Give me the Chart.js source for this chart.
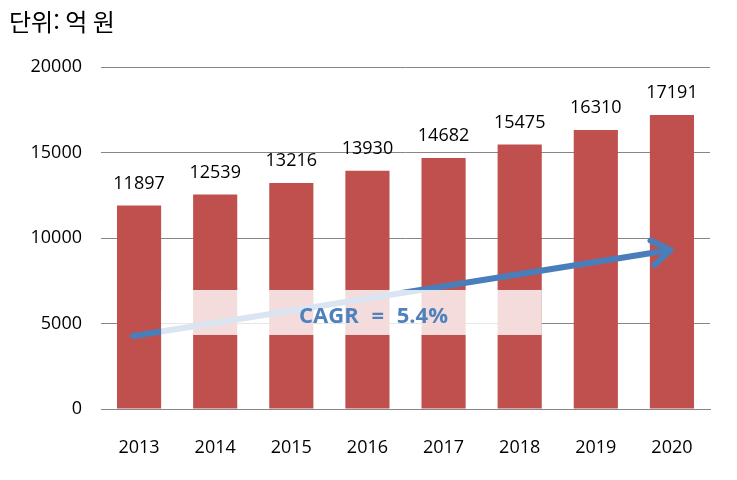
<!DOCTYPE html>
<html lang="ko">
<head>
<meta charset="UTF-8">
<script src="https://cdn.jsdelivr.net/npm/chart.js"></script>
<style>
  body { margin: 0; background: #fff; }
  #wrap { width: 737px; height: 480px; }
</style>
<title>Chart</title>
</head>
<body>
<div id="wrap"><canvas id="c" width="737" height="480"></canvas></div>
<script>
var years = ['2013', '2014', '2015', '2016', '2017', '2018', '2019', '2020'];
var sales = [11897, 12539, 13216, 13930, 14682, 15475, 16310, 17191];
var yTicks = [0, 5000, 10000, 15000, 20000];
var unitText = '단위: 억 원';
var cagrText = 'CAGR = 5.4%';
// arrow runs from [category index, value] to [category index, value]
var arrowFrom = [-0.08, 4270];
var arrowTo = [6.98, 9300];
// translucent band under the CAGR label
var bandFrom = [0.29, 6960];
var bandTo = [5.29, 4330];

var KFONT = '"Noto Sans CJK KR", sans-serif';
var NFONT = '"Open Sans", "Noto Sans", sans-serif';

var overlay = {
  id: 'overlay',
  afterDatasetsDraw: function (chart) {
    var ctx = chart.ctx;
    var xs = chart.scales.x, ys = chart.scales.y;
    var meta = chart.getDatasetMeta(0);

    // value labels
    ctx.save();
    ctx.font = '18px ' + NFONT;
    ctx.fillStyle = '#000';
    ctx.textAlign = 'center';
    ctx.textBaseline = 'middle';
    meta.data.forEach(function (bar, i) {
      ctx.fillText(sales[i], bar.x, bar.y - 22);
    });
    ctx.restore();

    // arrow
    var x1 = xs.getPixelForValue(arrowFrom[0]), y1 = ys.getPixelForValue(arrowFrom[1]);
    var x2 = xs.getPixelForValue(arrowTo[0]), y2 = ys.getPixelForValue(arrowTo[1]);
    var ang = Math.atan2(y2 - y1, x2 - x1);
    ctx.save();
    ctx.strokeStyle = '#4A7EBB';
    ctx.lineWidth = 6;
    ctx.lineCap = 'round';
    ctx.lineJoin = 'round';
    ctx.beginPath();
    ctx.moveTo(x1, y1);
    ctx.lineTo(x2, y2);
    ctx.stroke();
    var hl = 22;
    ctx.beginPath();
    ctx.moveTo(x2 - hl * Math.cos(ang - 0.6), y2 - hl * Math.sin(ang - 0.6));
    ctx.lineTo(x2, y2);
    ctx.lineTo(x2 - hl * Math.cos(ang + 0.6), y2 - hl * Math.sin(ang + 0.6));
    ctx.stroke();
    ctx.restore();

    // band
    var bx1 = xs.getPixelForValue(bandFrom[0]), by1 = ys.getPixelForValue(bandFrom[1]);
    var bx2 = xs.getPixelForValue(bandTo[0]), by2 = ys.getPixelForValue(bandTo[1]);
    ctx.save();
    ctx.fillStyle = 'rgba(255,255,255,0.8)';
    ctx.fillRect(bx1, by1, bx2 - bx1, by2 - by1);
    ctx.font = 'bold 22px ' + NFONT;
    ctx.wordSpacing = '7px';
    ctx.fillStyle = '#4F81BD';
    ctx.textAlign = 'center';
    ctx.textBaseline = 'middle';
    ctx.fillText(cagrText, xs.getPixelForValue(3.08), (by1 + by2) / 2 + 4);
    ctx.restore();

    // unit caption
    ctx.save();
    ctx.font = '24px ' + KFONT;
    ctx.fillStyle = '#000';
    ctx.textAlign = 'left';
    ctx.textBaseline = 'middle';
    ctx.fillText(unitText, 9, 22);
    ctx.restore();
  }
};

new Chart(document.getElementById('c').getContext('2d'), {
  type: 'bar',
  data: {
    labels: years,
    datasets: [{
      data: sales,
      backgroundColor: '#C0504D',
      barPercentage: 0.58,
      categoryPercentage: 1.0
    }]
  },
  options: {
    responsive: false,
    animation: false,
    devicePixelRatio: 1,
    layout: { padding: { top: 67, right: 27, left: 0, bottom: 0 } },
    plugins: { legend: { display: false }, tooltip: { enabled: false } },
    scales: {
      x: {
        grid: { display: false },
        border: { display: true, color: '#868686', width: 1 },
        ticks: { color: '#000', font: { family: NFONT, size: 18 }, padding: 20 },
        afterFit: function (s) { s.height = 71; }
      },
      y: {
        min: 0,
        max: 20000,
        afterBuildTicks: function (s) { s.ticks = yTicks.map(function (v) { return { value: v }; }); },
        grid: { color: '#868686', drawTicks: false },
        border: { display: false },
        ticks: {
          color: '#000', font: { family: NFONT, size: 18 }, padding: 19,
          callback: function (v) { return String(v); }
        },
        afterFit: function (s) { s.width = 101; }
      }
    }
  },
  plugins: [overlay]
});
</script>
</body>
</html>
